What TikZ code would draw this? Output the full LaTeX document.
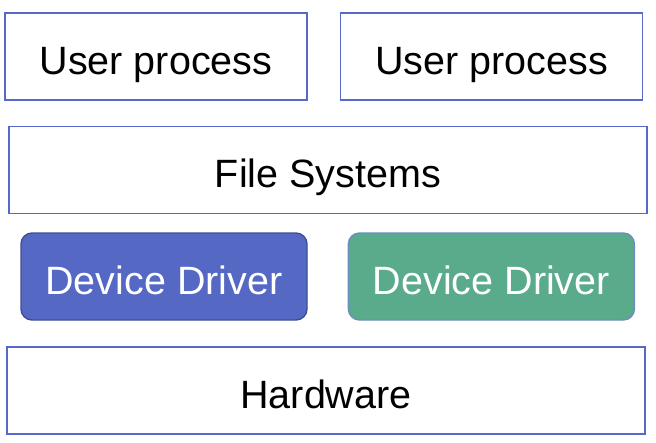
\documentclass[tikz,border=0pt]{standalone}
\usepackage{fontspec}
\setmainfont{Liberation Sans}
\usepackage{tikz}
\usetikzlibrary{positioning}
\definecolor{frame}{RGB}{88, 104, 200}
\definecolor{driverblue}{RGB}{84, 104, 196}
\definecolor{driverblueline}{RGB}{62, 78, 150}
\definecolor{drivergreen}{RGB}{90, 170, 140}
\definecolor{drivergreenline}{RGB}{108, 142, 191}

\begin{document}
\begin{tikzpicture}[
    x=1pt, y=-1pt,
    layer/.style={rectangle, draw=frame, fill=white, line width=1.6pt, minimum height=87pt, inner sep=0pt, text height=35pt, text depth=0pt, font=\fontsize{39.5}{46}\selectfont},
    driver/.style={rectangle, rounded corners=11pt, line width=1.4pt, minimum width=286pt, minimum height=87pt, inner sep=0pt, text height=35pt, text depth=0pt, text=white, font=\fontsize{39.5}{46}\selectfont}
]
    \useasboundingbox (0,0) rectangle (656,442);

    \node[layer, minimum width=302pt] (user1) at (156,56.5) {User process};
    \node[layer, minimum width=302pt, right=32pt of user1] (user2) {User process};
    \node[layer, minimum width=638pt] (files) at (328,170) {File Systems};

    \node[driver, draw=driverblueline, fill=driverblue] (drv1) at (164,276.5) {Device Driver};
    \node[driver, draw=drivergreenline, fill=drivergreen, right=40pt of drv1] (drv2) {Device Driver};

    \node[layer, minimum width=638pt] (hw) at (326,390.5) {Hardware};
\end{tikzpicture}
\end{document}
